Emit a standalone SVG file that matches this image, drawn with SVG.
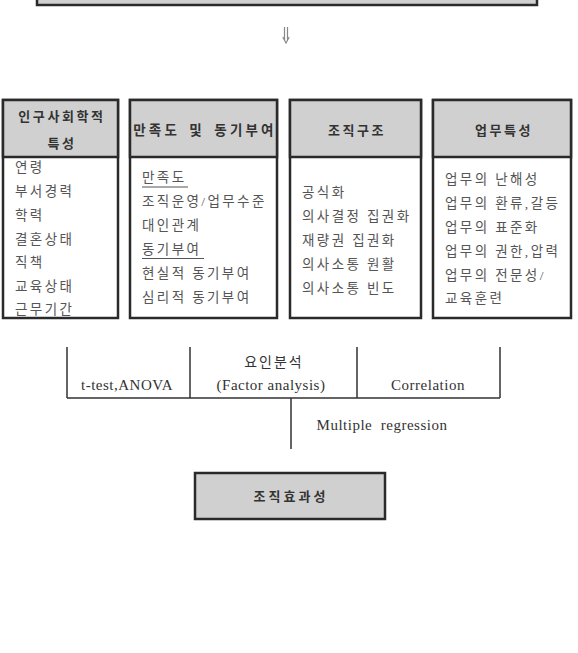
<svg xmlns="http://www.w3.org/2000/svg" width="578" height="653" viewBox="0 0 578 653">
<style>
.box{fill:#ffffff;stroke:#2a2a2a;stroke-width:2.5}
.hdr{fill:#d0d0d0;stroke:#2a2a2a;stroke-width:2.5}
.ht{font-family:"Noto Sans CJK KR","Liberation Sans",sans-serif;font-size:13px;font-weight:bold;fill:#333;letter-spacing:2.6px;text-anchor:middle}
.bt{font-family:"Liberation Serif","Noto Sans CJK KR",serif;font-size:13.5px;fill:#555;letter-spacing:2.4px}
.lt{font-family:"Liberation Serif","Noto Sans CJK KR",serif;font-size:15px;fill:#333;letter-spacing:0.5px;text-anchor:middle}
.ln{stroke:#333;stroke-width:1.5;fill:none}
.ul{stroke:#555;stroke-width:1.2}
</style>
<rect x="0" y="0" width="578" height="653" fill="#ffffff"/>
<g id="top">
<rect class="hdr" x="37" y="-20" width="500" height="25"/>
</g>
<g id="connectors">
<path d="M284.5 27 V40 M287.5 27 V40" stroke="#888" stroke-width="1.2" fill="none"/>
<path d="M282.8 37 L286 43 L289.2 37" stroke="#888" stroke-width="1.2" fill="none"/>
<path class="ln" d="M67 347 V398 M190 347 V398 M357 347 V398 M500 347 V398 M67 398 H500 M291 398 V449"/>
</g>
<g id="node1">
<rect class="box" x="3" y="100" width="115" height="218"/>
<rect class="hdr" x="3" y="100" width="115" height="57"/>
<text class="ht" x="62" y="121">인구사회학적</text>
<text class="ht" x="62" y="148">특성</text>
<text class="bt" x="15" y="172">연령</text>
<text class="bt" x="15" y="196">부서경력</text>
<text class="bt" x="15" y="220">학력</text>
<text class="bt" x="15" y="244">결혼상태</text>
<text class="bt" x="15" y="267">직책</text>
<text class="bt" x="15" y="291">교육상태</text>
<text class="bt" x="15" y="313.5">근무기간</text>
</g>
<g id="node2">
<rect class="box" x="130" y="100" width="147" height="218"/>
<rect class="hdr" x="130" y="100" width="147" height="57"/>
<text class="ht" x="205" y="135" style="font-size:13.5px;letter-spacing:3.2px;word-spacing:3px">만족도 및 동기부여</text>
<text class="bt" x="142" y="182">만족도</text>
<line class="ul" x1="142" y1="187" x2="188" y2="187"/>
<text class="bt" x="142" y="206">조직운영/업무수준</text>
<text class="bt" x="142" y="230">대인관계</text>
<text class="bt" x="142" y="254">동기부여</text>
<line class="ul" x1="142" y1="258.5" x2="204" y2="258.5"/>
<text class="bt" x="142" y="278">현실적 동기부여</text>
<text class="bt" x="142" y="302">심리적 동기부여</text>
</g>
<g id="node3">
<rect class="box" x="290" y="100" width="131" height="218"/>
<rect class="hdr" x="290" y="100" width="131" height="57"/>
<text class="ht" x="357" y="135">조직구조</text>
<text class="bt" x="302" y="197">공식화</text>
<text class="bt" x="302" y="221">의사결정 집권화</text>
<text class="bt" x="302" y="245">재량권 집권화</text>
<text class="bt" x="302" y="269">의사소통 원활</text>
<text class="bt" x="302" y="293">의사소통 빈도</text>
</g>
<g id="node4">
<rect class="box" x="433" y="100" width="138" height="218"/>
<rect class="hdr" x="433" y="100" width="138" height="57"/>
<text class="ht" x="504" y="135">업무특성</text>
<text class="bt" x="445" y="184">업무의 난해성</text>
<text class="bt" x="445" y="208">업무의 환류,갈등</text>
<text class="bt" x="445" y="232">업무의 표준화</text>
<text class="bt" x="445" y="256">업무의 권한,압력</text>
<text class="bt" x="445" y="280">업무의 전문성/</text>
<text class="bt" x="445" y="303">교육훈련</text>
</g>
<g id="labels">
<text class="lt" x="127" y="390">t-test,ANOVA</text>
<text class="lt" x="274" y="367" style="font-size:14px;letter-spacing:2px">요인분석</text>
<text class="lt" x="271" y="390">(Factor  analysis)</text>
<text class="lt" x="428" y="390">Correlation</text>
<text class="lt" x="382" y="430" style="white-space:pre">Multiple  regression</text>
</g>
<g id="result">
<rect class="hdr" x="195" y="473" width="190" height="46"/>
<text class="ht" x="291" y="501" style="letter-spacing:3px">조직효과성</text>
</g>
</svg>
